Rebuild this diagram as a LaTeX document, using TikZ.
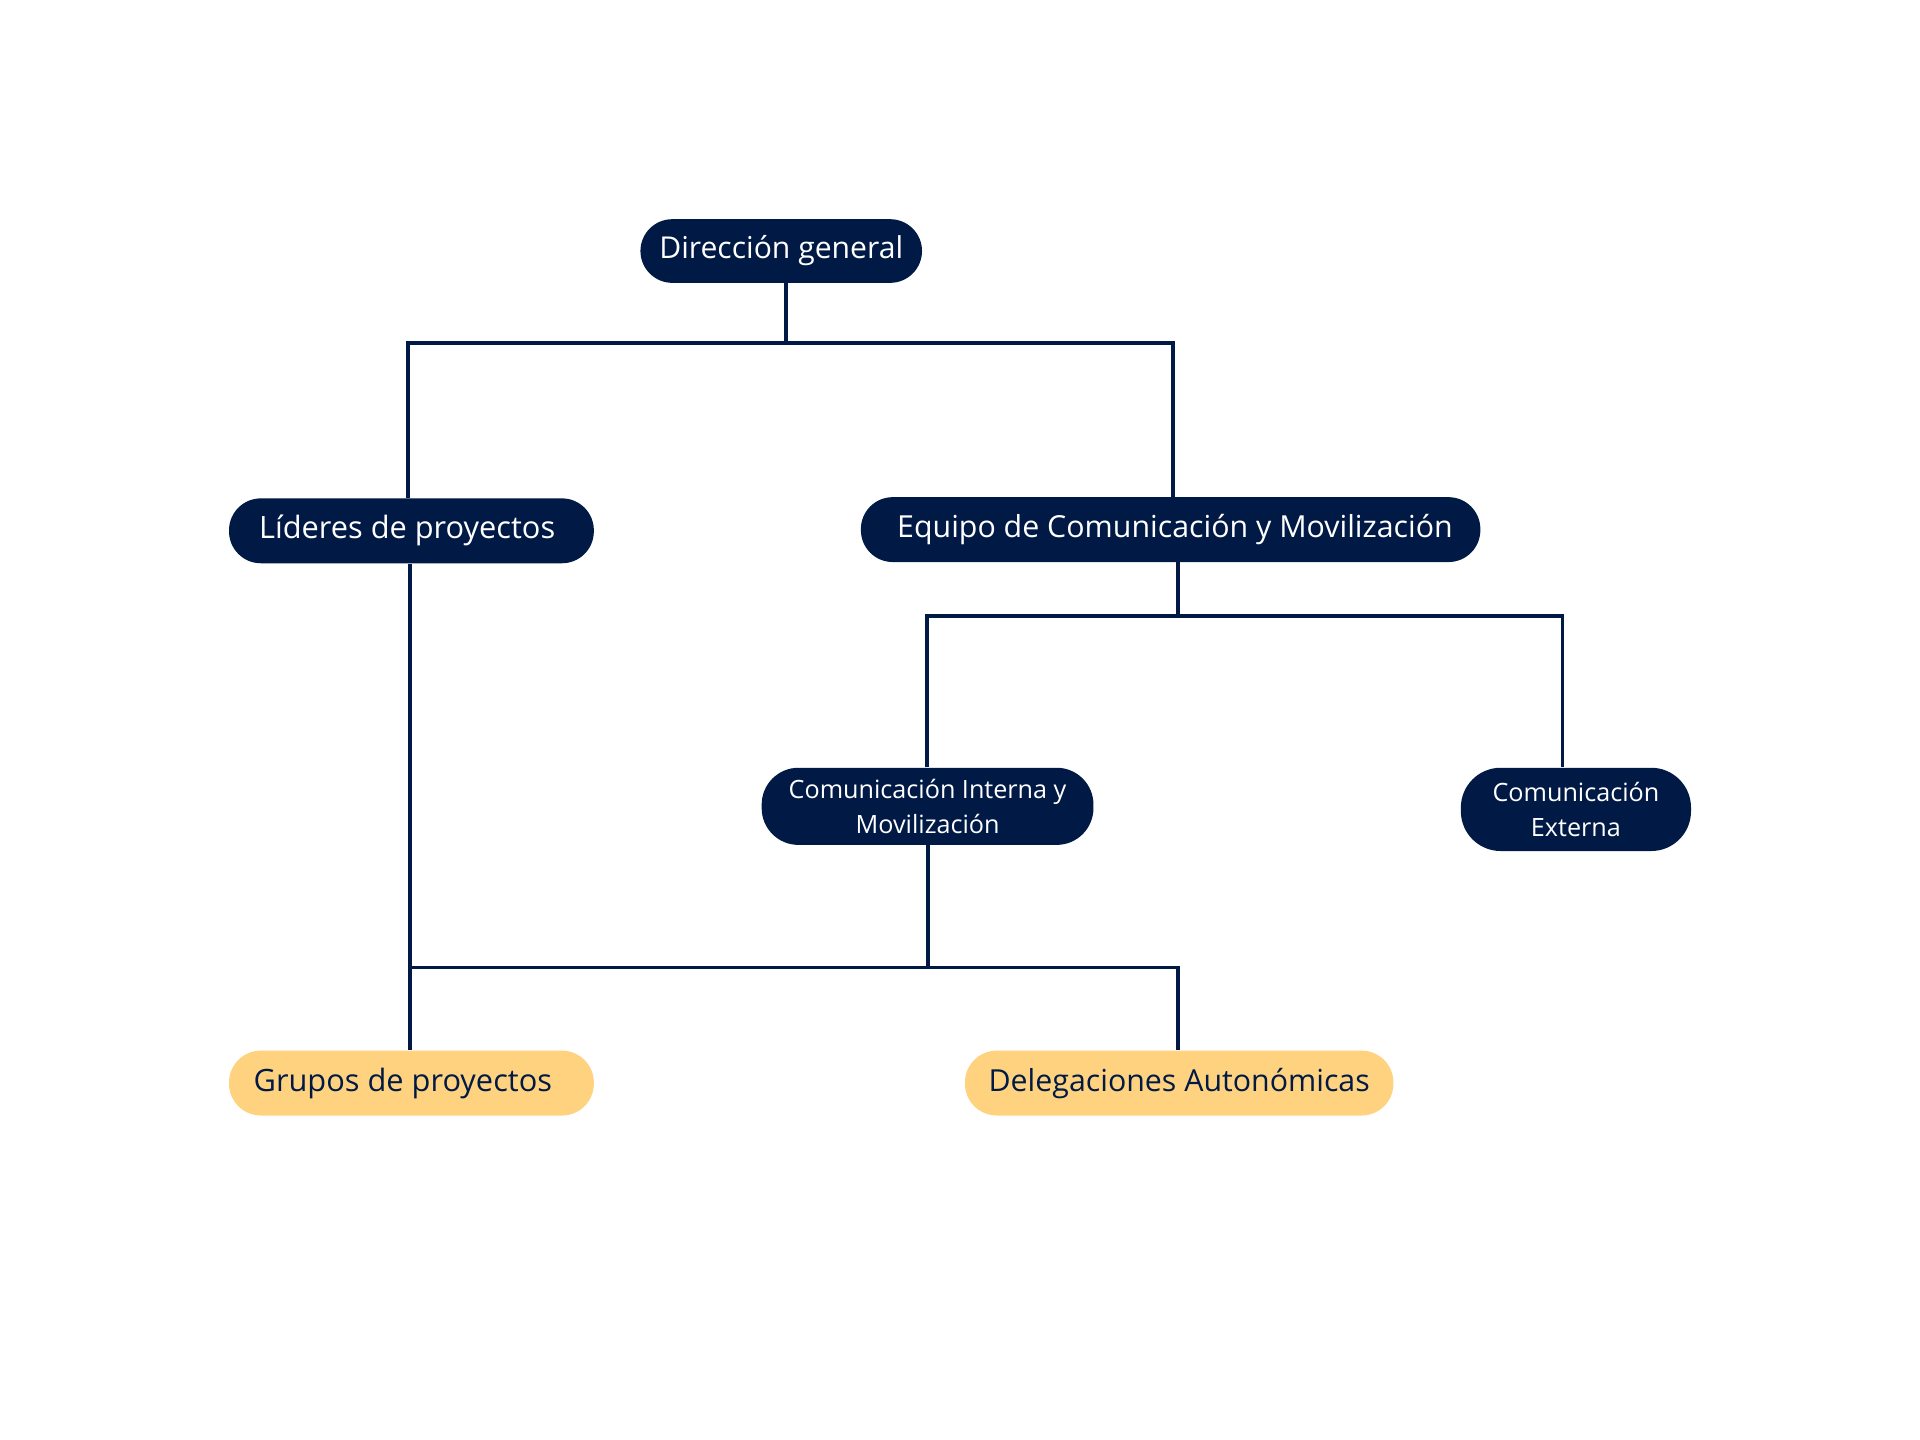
\documentclass[tikz,border=0pt]{standalone}
\usepackage{fontspec}
\setmainfont{Open Sans}
\definecolor{navy}{RGB}{1,26,69}
\definecolor{gold}{RGB}{255,210,127}
\begin{document}
\begin{tikzpicture}[x=0.02cm,y=-0.02cm,
  pill/.style={rectangle, rounded corners=0.52cm, inner sep=0pt, align=center},
  darkbox/.style={pill, fill=navy, text=white},
  lightbox/.style={pill, fill=gold, text=navy},
  big/.style={font=\fontsize{14.3}{17}\selectfont},
  small/.style={font=\fontsize{11.7}{16}\selectfont},
  link/.style={draw=navy, line width=1.7pt}]
\useasboundingbox[fill=white] (0,0) rectangle (1568,1176);

\node[darkbox, font=\fontsize{14}{17}\selectfont, minimum width=4.6cm, minimum height=1.04cm] (dir) at (638,205) {\raisebox{-1pt}{Dirección general}};
\node[darkbox, big, minimum width=5.96cm, minimum height=1.06cm] (lid) at (336,433.5) {Líderes de proyectos\hspace*{4pt}};
\node[darkbox, font=\fontsize{14.1}{17}\selectfont, minimum width=10.12cm, minimum height=1.06cm] (eq) at (956,432.5) {\hspace*{4pt}Equipo de Comunicación y Movilización};
\node[darkbox, small, minimum width=5.42cm, minimum height=1.26cm, rounded corners=0.6cm] (ci) at (757.5,658.5) {Comunicación Interna y\\Movilización};
\node[darkbox, small, minimum width=3.76cm, minimum height=1.36cm, rounded corners=0.65cm] (ce) at (1287,661) {Comunicación\\Externa};
\node[lightbox, big, minimum width=5.96cm, minimum height=1.06cm] (gr) at (336,884.5) {Grupos de proyectos\hspace*{8pt}};
\node[lightbox, font=\fontsize{14.1}{17}\selectfont, minimum width=7.0cm, minimum height=1.06cm] (de) at (963,884.5) {Delegaciones Autonómicas};

\coordinate (j1) at (642,280);
\coordinate (l1) at (333,280);
\coordinate (r1) at (958,280);
\coordinate (j2) at (962,503);
\coordinate (l2) at (757,503);
\coordinate (r2) at (1276,503);
\coordinate (j3) at (758,790);
\coordinate (l3) at (335,790);
\coordinate (r3) at (962,790);

\draw[link] (dir.south -| j1) -- (j1);
\draw[link] (lid.north -| l1) -- (l1) -- (r1) -- (eq.north -| r1);
\draw[link] (eq.south -| j2) -- (j2);
\draw[link] (ci.north -| l2) -- (l2) -- (r2) -- (ce.north -| r2);
\draw[link] (lid.south -| l3) -- (gr.north -| l3);
\draw[link] (ci.south -| j3) -- (j3);
\draw[link] (l3) -- (r3) -- (de.north -| r3);
\end{tikzpicture}
\end{document}
